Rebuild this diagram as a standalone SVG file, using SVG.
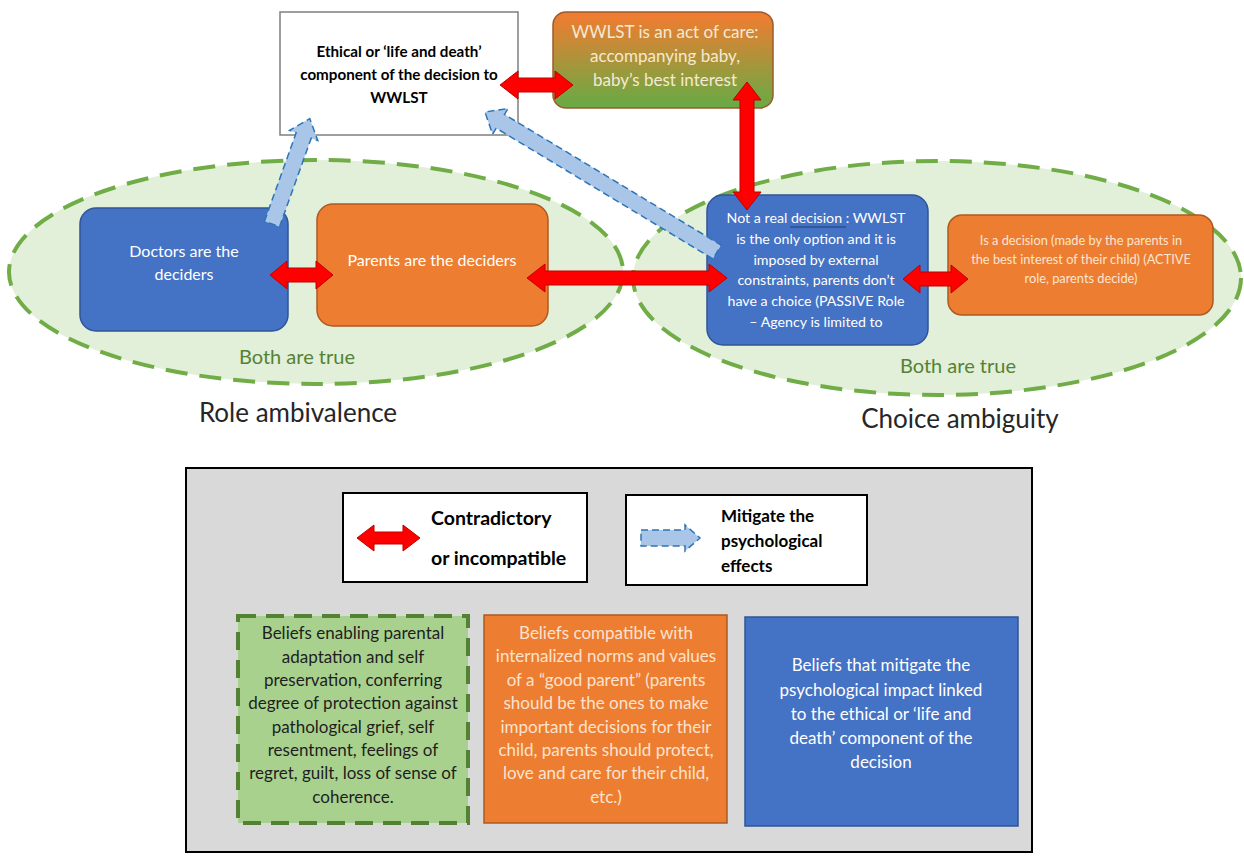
<svg xmlns="http://www.w3.org/2000/svg" width="1244" height="857" viewBox="0 0 1244 857">
<style>
text{font-family:Lato,"Liberation Sans",sans-serif;}
.ell{fill:#e2efd9;stroke:#70ad47;stroke-width:4;stroke-dasharray:22 12;}
.blue{fill:#4472c4;stroke:#2f5597;stroke-width:1.5;}
.orange{fill:#ed7d31;stroke:#ae5a21;stroke-width:1.5;}
.red{fill:#ff0000;stroke:#c00000;stroke-width:1;}
.mit{fill:#a9c5e8;stroke:#2e75b6;stroke-width:1.5;stroke-dasharray:7 4;}
.wt{fill:#ffffff;font-size:16px;text-anchor:middle;}
.wt2{fill:#ffffff;font-size:14.2px;text-anchor:middle;}
.both{fill:#548235;font-size:20px;text-anchor:middle;}
.title{fill:#262626;font-size:26px;text-anchor:middle;}
.lgb{fill:#000;font-size:19.5px;font-weight:bold;}
.lgm{fill:#000;font-size:17px;font-weight:bold;}
.bt{font-size:17px;text-anchor:middle;}
</style>
<defs>
<linearGradient id="care" x1="0" y1="0" x2="0" y2="1">
<stop offset="0.05" stop-color="#ed7d31"/>
<stop offset="0.95" stop-color="#6ca944"/>
</linearGradient>
</defs>

<g id="ellipse-role"><ellipse class="ell" cx="316" cy="272" rx="307" ry="112"/></g>
<g id="ellipse-choice"><ellipse class="ell" cx="937" cy="278" rx="304" ry="117"/></g>

<g id="node-ethical">
<rect x="280" y="12" width="238" height="123" fill="#ffffff" stroke="#7f7f7f" stroke-width="1.5"/>
<text x="399" y="57" font-size="15.2" font-weight="bold" text-anchor="middle" fill="#000">Ethical or ‘life and death’</text>
<text x="399" y="80" font-size="15.2" font-weight="bold" text-anchor="middle" fill="#000">component of the decision to</text>
<text x="399" y="103" font-size="15.2" font-weight="bold" text-anchor="middle" fill="#000">WWLST</text>
</g>

<g id="node-care">
<rect x="553" y="12" width="220" height="96" rx="13" fill="url(#care)" stroke="#9c5b2b" stroke-width="1.5"/>
<text x="665" y="38" font-size="17" text-anchor="middle" fill="#f6e9d2">WWLST is an act of care:</text>
<text x="665" y="62" font-size="17" text-anchor="middle" fill="#f6e9d2">accompanying baby,</text>
<text x="665" y="86" font-size="17" text-anchor="middle" fill="#f6e9d2">baby’s best interest</text>
</g>

<g id="node-doctors">
<rect class="blue" x="80" y="208" width="208" height="123" rx="16"/>
<text class="wt" x="184" y="257">Doctors are the</text>
<text class="wt" x="184" y="280">deciders</text>
</g>

<g id="node-parents">
<rect class="orange" x="317" y="204" width="231" height="122" rx="16"/>
<text class="wt" x="432" y="266">Parents are the deciders</text>
</g>

<g id="node-notreal">
<rect class="blue" x="707" y="195" width="221" height="150" rx="16"/>
<text class="wt2" x="816" y="223">Not a real decision : WWLST</text>
<line x1="790" y1="227" x2="846" y2="227" stroke="#1f3c7a" stroke-width="1"/>
<text class="wt2" x="816" y="244">is the only option and it is</text>
<text class="wt2" x="816" y="265">imposed by external</text>
<text class="wt2" x="816" y="285">constraints, parents don’t</text>
<text class="wt2" x="816" y="306">have a choice (PASSIVE Role</text>
<text class="wt2" x="816" y="327">– Agency is limited to</text>
</g>

<g id="node-isdecision">
<rect class="orange" x="948" y="215" width="265" height="100" rx="14"/>
<text x="1081" y="245" font-size="12.8" text-anchor="middle" fill="#fbe5d3">Is a decision (made by the parents in</text>
<text x="1081" y="264" font-size="12.8" text-anchor="middle" fill="#fbe5d3">the best interest of their child) (ACTIVE</text>
<text x="1081" y="283" font-size="12.8" text-anchor="middle" fill="#fbe5d3">role, parents decide)</text>
</g>

<g id="labels">
<text class="both" x="297" y="364">Both are true</text>
<text class="both" x="958" y="373">Both are true</text>
<text class="title" x="298" y="422">Role ambivalence</text>
<text class="title" x="960" y="428">Choice ambiguity</text>
</g>

<g id="connectors">
<polygon class="red" points="500,85 518,71 518,78 555,78 555,71 573,85 555,99 555,92 518,92 518,99"/>
<polygon class="red" points="747,82 761,100 754,100 754,192 761,192 747,210 733,192 740,192 740,100 733,100"/>
<polygon class="red" points="270,275 287,261 287,268 316,268 316,261 333,275 316,289 316,282 287,282 287,289"/>
<polygon class="red" points="527,278 545,264 545,271 709,271 709,264 727,278 709,292 709,285 545,285 545,292"/>
<polygon class="red" points="903,279 920,265 920,272 951,272 951,265 968,279 951,293 951,286 920,286 920,293"/>
<polygon class="mit" transform="translate(272,224) rotate(-70.3)" points="0,-8 94,-8 94,-15 112,0 94,15 94,8 0,8"/>
<polygon class="mit" transform="translate(717,252) rotate(-148.9)" points="0,-8 253,-8 253,-15 271,0 253,15 253,8 0,8"/>
</g>

<g id="legend">
<rect x="186" y="468" width="846" height="384" fill="#d9d9d9" stroke="#000" stroke-width="2"/>
<rect x="343" y="493" width="244" height="89" fill="#ffffff" stroke="#000" stroke-width="2"/>
<polygon class="red" points="357,538 374,525 374,532 403,532 403,525 420,538 403,551 403,544 374,544 374,551"/>
<text class="lgb" x="431" y="525">Contradictory</text>
<text class="lgb" x="431" y="565">or incompatible</text>
<rect x="626" y="495" width="241" height="90" fill="#ffffff" stroke="#000" stroke-width="2"/>
<polygon class="mit" points="641,530 685,530 685,525 700,538 685,551 685,546 641,546"/>
<text class="lgm" x="721" y="522">Mitigate the</text>
<text class="lgm" x="721" y="547">psychological</text>
<text class="lgm" x="721" y="572">effects</text>
</g>

<g id="node-adaptation">
<rect x="238" y="616" width="230" height="207" fill="#a9d18e" stroke="#548235" stroke-width="4" stroke-dasharray="18 10"/>
<g class="bt" fill="#1e1e1e">
<text x="353" y="639">Beliefs enabling parental</text>
<text x="353" y="663">adaptation and self</text>
<text x="353" y="686">preservation, conferring</text>
<text x="353" y="709">degree of protection against</text>
<text x="353" y="733">pathological grief, self</text>
<text x="353" y="756">resentment, feelings of</text>
<text x="353" y="779">regret, guilt, loss of sense of</text>
<text x="353" y="803">coherence.</text>
</g>
</g>

<g id="node-goodparent">
<rect x="484" y="615" width="243" height="208" fill="#ed7d31" stroke="#ae5a21" stroke-width="1.5"/>
<g class="bt" fill="#fbe3cf" font-size="16.3">
<text x="606" y="639">Beliefs compatible with</text>
<text x="606" y="662">internalized norms and values</text>
<text x="606" y="686">of a “good parent” (parents</text>
<text x="606" y="709">should be the ones to make</text>
<text x="606" y="733">important decisions for their</text>
<text x="606" y="756">child, parents should protect,</text>
<text x="606" y="779">love and care for their child,</text>
<text x="606" y="803">etc.)</text>
</g>
</g>

<g id="node-mitigate">
<rect x="745" y="617" width="273" height="209" fill="#4472c4" stroke="#2f5597" stroke-width="1.5"/>
<g class="bt" fill="#ffffff" font-size="19">
<text x="881" y="671">Beliefs that mitigate the</text>
<text x="881" y="696">psychological impact linked</text>
<text x="881" y="720">to the ethical or ‘life and</text>
<text x="881" y="744">death’ component of the</text>
<text x="881" y="768">decision</text>
</g>
</g>
</svg>
